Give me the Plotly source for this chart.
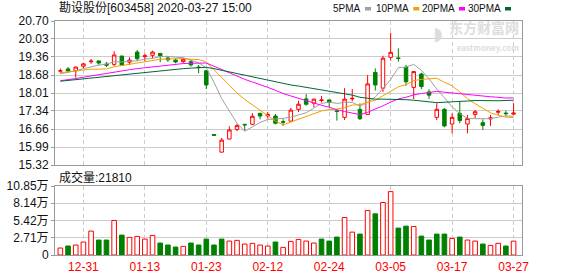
import plotly.graph_objects as go

# ---------------- data ----------------
dates = ["12-26", "12-27", "12-30", "12-31", "01-02", "01-03", "01-06", "01-07", "01-08", "01-09",
         "01-10", "01-13", "01-14", "01-15", "01-16", "01-17", "01-20", "01-21", "01-22", "01-23",
         "02-03", "02-04", "02-05", "02-06", "02-07", "02-10", "02-11", "02-12", "02-13", "02-14",
         "02-17", "02-18", "02-19", "02-20", "02-21", "02-24", "02-25", "02-26", "02-27", "02-28",
         "03-02", "03-03", "03-04", "03-05", "03-06", "03-09", "03-10", "03-11", "03-12", "03-13",
         "03-16", "03-17", "03-18", "03-19", "03-20", "03-23", "03-24", "03-25", "03-26", "03-27"]

opens = [18.83, 18.91, 18.84, 19.01, 19.18, 19.21, 19.09, 19.08, 19.39, 19.16,
         19.54, 19.37, 19.42, 19.49, 19.32, 19.24, 19.18, 19.18, 18.98, 18.84,
         16.46, 15.80, 16.29, 16.65, 16.84, 16.84, 17.25, 17.16, 17.15, 16.94,
         16.96, 17.40, 17.79, 17.63, 17.73, 17.75, 17.34, 17.10, 17.79, 17.40,
         17.21, 18.78, 18.19, 19.34, 19.32, 18.97, 18.22, 18.72, 18.05, 17.10,
         17.40, 16.85, 17.25, 16.85, 17.21, 16.90, 17.04, 17.29, 17.26, 17.22]
highs = [18.92, 18.98, 18.99, 19.14, 19.28, 19.22, 19.17, 19.57, 19.40, 19.34,
         19.62, 19.49, 19.59, 19.50, 19.39, 19.30, 19.30, 19.26, 19.06, 18.86,
         16.48, 16.33, 16.77, 16.86, 16.85, 17.26, 17.27, 17.30, 17.23, 17.03,
         17.45, 17.72, 17.97, 17.80, 17.90, 17.76, 17.40, 18.19, 18.16, 17.62,
         18.68, 18.93, 19.40, 20.26, 19.68, 19.06, 18.83, 18.77, 18.15, 17.63,
         17.45, 17.25, 17.69, 17.19, 17.38, 17.03, 17.19, 17.40, 17.35, 17.63]
lows = [18.75, 18.77, 18.58, 18.92, 19.10, 19.06, 18.98, 19.02, 19.04, 19.05,
        19.22, 19.18, 19.31, 19.16, 19.17, 19.12, 19.13, 19.00, 18.75, 18.16,
        16.42, 15.79, 16.28, 16.58, 16.60, 16.82, 17.03, 17.05, 16.84, 16.78,
        16.94, 17.30, 17.54, 17.48, 17.66, 17.48, 16.98, 17.00, 17.70, 17.00,
        17.20, 18.10, 18.05, 19.22, 19.18, 18.28, 17.78, 18.16, 17.79, 17.00,
        16.73, 16.50, 16.88, 16.50, 17.07, 16.63, 16.78, 17.19, 17.15, 17.19]
closes = [18.84, 18.83, 18.98, 19.10, 19.20, 19.13, 19.05, 19.43, 19.05, 19.24,
          19.29, 19.40, 19.54, 19.40, 19.25, 19.17, 19.27, 19.06, 18.96, 18.31,
          16.43, 16.25, 16.63, 16.79, 16.82, 17.14, 17.15, 17.21, 16.88, 16.92,
          17.37, 17.59, 17.59, 17.78, 17.75, 17.66, 17.32, 17.78, 17.81, 17.05,
          18.35, 18.31, 19.31, 19.53, 19.30, 18.43, 18.81, 18.25, 17.93, 17.40,
          16.78, 17.10, 16.98, 17.06, 17.31, 16.80, 17.08, 17.32, 17.24, 17.26]

# volume in 万
volumes = [1.10, 1.41, 1.57, 2.04, 3.76, 2.35, 2.35, 5.43, 3.13, 2.77,
           2.92, 2.50, 3.08, 1.88, 1.57, 1.25, 1.36, 1.88, 1.57, 2.50,
           1.57, 2.50, 2.19, 2.30, 1.72, 1.83, 1.57, 1.41, 2.04, 1.20,
           2.14, 2.45, 2.19, 1.88, 2.50, 2.19, 2.82, 5.90, 3.60, 3.29,
           6.99, 6.47, 8.25, 9.97, 4.23, 4.54, 4.49, 2.97, 2.35, 3.29,
           3.29, 2.61, 2.82, 2.35, 2.19, 1.72, 1.51, 1.83, 1.41, 2.181]

ma5 = [18.73, 18.78, 18.84, 18.92, 18.99, 19.05, 19.09, 19.18, 19.17, 19.18,
       19.21, 19.28, 19.30, 19.37, 19.38, 19.35, 19.33, 19.23, 19.14, 18.95,
       18.41, 17.80, 17.32, 16.88, 16.58, 16.73, 16.91, 17.02, 17.04, 17.06,
       17.11, 17.19, 17.27, 17.45, 17.62, 17.67, 17.62, 17.66, 17.66, 17.52,
       17.66, 17.86, 18.17, 18.51, 18.96, 18.98, 19.08, 18.86, 18.54, 18.16,
       17.83, 17.49, 17.24, 17.06, 17.05, 17.05, 17.05, 17.11, 17.15, 17.14]
ma10 = [18.77, 18.79, 18.83, 18.87, 18.90, 18.90, 18.91, 18.99, 19.04, 19.09,
        19.13, 19.19, 19.24, 19.27, 19.28, 19.28, 19.30, 19.27, 19.26, 19.17,
        18.88, 18.56, 18.27, 18.01, 17.77, 17.57, 17.35, 17.17, 16.96, 16.82,
        16.92, 17.05, 17.15, 17.25, 17.34, 17.39, 17.41, 17.46, 17.56, 17.57,
        17.67, 17.74, 17.91, 18.09, 18.24, 18.32, 18.47, 18.52, 18.53, 18.56,
        18.41, 18.28, 18.05, 17.80, 17.61, 17.44, 17.27, 17.18, 17.11, 17.09]
ma20 = [18.47, 18.50, 18.55, 18.60, 18.65, 18.70, 18.75, 18.80, 18.84, 18.88,
        18.92, 18.95, 18.98, 19.02, 19.06, 19.09, 19.11, 19.12, 19.13, 19.13,
        19.01, 18.88, 18.76, 18.64, 18.52, 18.42, 18.33, 18.22, 18.11, 17.99,
        17.90, 17.81, 17.71, 17.63, 17.55, 17.48, 17.38, 17.32, 17.26, 17.20,
        17.29, 17.40, 17.53, 17.67, 17.79, 17.85, 17.94, 17.99, 18.04, 18.07,
        18.04, 18.01, 17.98, 17.95, 17.92, 17.88, 17.87, 17.85, 17.82, 17.83]
ma30 = [18.45, 18.48, 18.51, 18.55, 18.58, 18.61, 18.64, 18.67, 18.70, 18.73,
        18.76, 18.79, 18.82, 18.85, 18.88, 18.90, 18.92, 18.94, 18.96, 18.97,
        18.92, 18.86, 18.80, 18.74, 18.68, 18.62, 18.55, 18.49, 18.43, 18.36,
        18.31, 18.27, 18.22, 18.18, 18.13, 18.08, 18.02, 17.97, 17.93, 17.85,
        17.82, 17.78, 17.78, 17.78, 17.78, 17.76, 17.74, 17.72, 17.68, 17.65,
        17.66, 17.69, 17.70, 17.71, 17.73, 17.72, 17.71, 17.72, 17.73, 17.74]

price_ticks = [15.32, 15.99, 16.66, 17.34, 18.01, 18.68, 19.36, 20.03, 20.70]
vol_ticks = [0, 2.71, 5.42, 8.14, 10.85]
vol_tick_text = ["0", "2.71万", "5.42万", "8.14万", "10.85万"]
date_labels = ["12-31", "01-13", "01-23", "02-12", "02-24", "03-05", "03-17", "03-27"]
title_text = "勘设股份[603458] 2020-03-27 15:00"
vol_label = "成交量:21810"
ma_names = ["5PMA", "10PMA", "20PMA", "30PMA"]

# ---------------- styles ----------------
RED = "#ff0000"
GREEN = "#008000"
MA_COLORS = ["#a0a0a0", "#f5a000", "#ff00ff", "#006633"]
GRID = "#cccccc"
BORDER = "#999999"
FONT = "Liberation Sans, Arial, Noto Sans CJK SC, sans-serif"

W, H = 578, 276
L, R, T, B = 55, 56, 21, 21
PW, PH = W - L - R, H - T - B


def px(xp):
    return (xp - L) / PW


def py(yp):
    return (T + PH - yp) / PH


x = list(range(len(dates)))
tickvals = [dates.index(d) for d in date_labels]
vol_up = [True] + [closes[i] >= closes[i - 1] for i in range(1, len(closes))]

fig = go.Figure()

fig.add_trace(go.Candlestick(
    x=x, open=opens, high=highs, low=lows, close=closes,
    increasing=dict(line=dict(color=RED, width=1), fillcolor="white"),
    decreasing=dict(line=dict(color=GREEN, width=1), fillcolor=GREEN),
    whiskerwidth=0, hoverinfo="skip", xaxis="x", yaxis="y",
))

for vals, col in zip([ma5, ma10, ma20, ma30], MA_COLORS):
    fig.add_trace(go.Scatter(x=x, y=vals, mode="lines", line=dict(color=col, width=1),
                             hoverinfo="skip", xaxis="x", yaxis="y"))

fig.add_trace(go.Bar(
    x=x, y=volumes, width=0.6,
    marker=dict(color=["white" if u else GREEN for u in vol_up],
                line=dict(color=[RED if u else GREEN for u in vol_up], width=1)),
    hoverinfo="skip", xaxis="x2", yaxis="y2",
))

xr = [-0.7, 60.1]
common_x = dict(range=xr, tickvals=tickvals, showgrid=True, gridcolor=GRID, griddash="4px,3px",
                gridwidth=1, showline=True, mirror=True, linecolor=BORDER, linewidth=1,
                zeroline=False, fixedrange=True, automargin=False)
common_y = dict(showgrid=True, gridcolor=GRID, gridwidth=1, showline=True, mirror=True,
                linecolor=BORDER, linewidth=1, zeroline=False, ticks="outside", ticklen=3,
                tickcolor=BORDER, tickfont=dict(size=12, color="#111111"), fixedrange=True,
                automargin=False)

p_bottom = py(165)
v_top = py(186)

fig.update_layout(
    width=W, height=H,
    margin=dict(l=L, r=R, t=T, b=B),
    paper_bgcolor="white", plot_bgcolor="white",
    showlegend=False,
    boxgap=0.35,
    font=dict(family=FONT, size=12, color="#111111"),
    xaxis=dict(domain=[0, 1], anchor="y", showticklabels=False, ticks="",
               rangeslider=dict(visible=False), **common_x),
    yaxis=dict(domain=[p_bottom, 1], anchor="x", range=[price_ticks[0], price_ticks[-1]],
               tickvals=price_ticks, ticktext=["%.2f" % v for v in price_ticks], **common_y),
    xaxis2=dict(domain=[0, 1], anchor="y2", showticklabels=True, ticktext=date_labels,
                ticks="outside", ticklen=1, tickcolor="rgba(0,0,0,0)",
                tickfont=dict(size=12, color=RED), **common_x),
    yaxis2=dict(domain=[0, v_top], anchor="x2", range=[vol_ticks[0], vol_ticks[-1]],
                tickvals=vol_ticks, ticktext=vol_tick_text, **common_y),
)

ann = []
ann.append(dict(text=title_text, xref="paper", yref="paper", x=px(57), y=py(8),
                xanchor="left", yanchor="middle", showarrow=False,
                font=dict(size=12, color="#111111", family=FONT)))
ann.append(dict(text=vol_label, xref="paper", yref="paper", x=px(57), y=py(177),
                xanchor="left", yanchor="middle", showarrow=False,
                font=dict(size=12, color="#111111", family=FONT)))

# legend (text + small colour block)
leg_text_right = [363, 411, 456.5, 502.5]
leg_sq_left = [365, 413.3, 459, 505]
shapes = []
for name, col, tr, sl in zip(ma_names, MA_COLORS, leg_text_right, leg_sq_left):
    ann.append(dict(text=name, xref="paper", yref="paper", x=px(tr), y=py(8.5),
                    xanchor="right", yanchor="middle", showarrow=False,
                    font=dict(size=10, color="#111111", family=FONT)))
    shapes.append(dict(type="rect", xref="paper", yref="paper",
                       x0=px(sl), x1=px(sl + 6), y0=py(10.5), y1=py(7),
                       fillcolor=col, line=dict(width=0)))

# watermark (single text block)
ann.append(dict(text="<b>东方财富网</b><br><span style='font-size:8px'><b>eastmoney.com</b></span>",
                xref="paper", yref="paper", x=px(521), y=py(35),
                xanchor="right", yanchor="middle", align="right", showarrow=False,
                font=dict(size=14, color="#dddddd", family="Noto Sans CJK SC")))
ann.append(dict(text="<b>◗</b>", xref="paper", yref="paper", x=px(437), y=py(33),
                xanchor="center", yanchor="middle", showarrow=False,
                font=dict(size=18, color="#dddddd", family="DejaVu Sans")))

fig.update_layout(annotations=ann, shapes=shapes)

fig.write_html("out.html")
